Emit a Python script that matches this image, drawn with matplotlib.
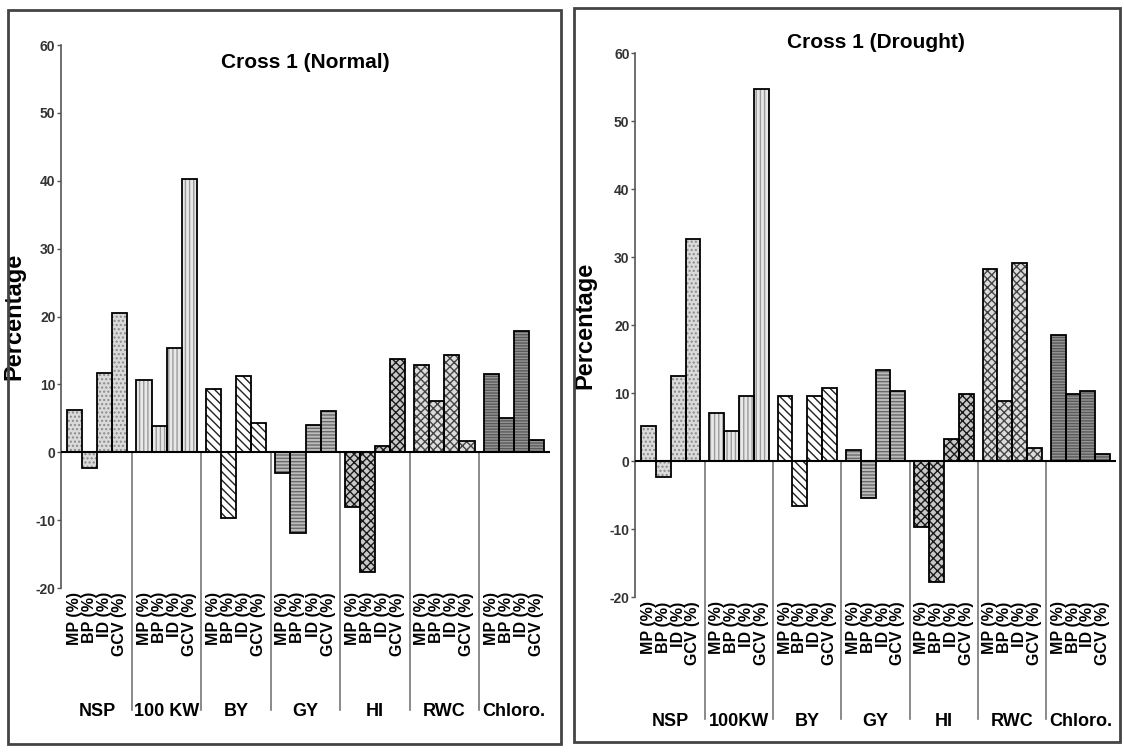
import numpy as np
import matplotlib
matplotlib.use('Agg')
import matplotlib.pyplot as plt
from matplotlib.patches import Rectangle
import matplotlib.transforms as mtransforms

plt.rcParams['axes.unicode_minus'] = False

# Datos
params = ['MP (%)', 'BP (%)', 'ID (%)', 'GCV (%)']
groups_normal = ['NSP', '100 KW', 'BY', 'GY', 'HI', 'RWC', 'Chloro.']
groups_drought = ['NSP', '100KW', 'BY', 'GY', 'HI', 'RWC', 'Chloro.']

# Cross 1 (Normal), un valor por grupo
mp_normal = [6.2, 10.7, 9.3, -3.0, -8.0, 12.9, 11.6]
bp_normal = [-2.3, 3.9, -9.7, -11.9, -17.6, 7.6, 5.0]
id_normal = [11.7, 15.4, 11.2, 4.0, 1.0, 14.3, 17.9]
gcv_normal = [20.5, 40.2, 4.3, 6.1, 13.8, 1.7, 1.8]

# Cross 1 (Drought)
mp_drought = [5.2, 7.1, 9.5, 1.6, -9.7, 28.3, 18.5]
bp_drought = [-2.4, 4.4, -6.6, -5.4, -17.8, 8.8, 9.8]
id_drought = [12.5, 9.6, 9.6, 13.4, 3.3, 29.1, 10.3]
gcv_drought = [32.6, 54.7, 10.7, 10.3, 9.8, 1.9, 1.1]

# Relleno por grupo: (color, trama, color de trama)
estilos = [('#dadada', '....', '#8a8a8a'),
           ('#e8e8e8', '||||', '#9a9a9a'),
           ('#ffffff', '\\\\\\\\', '#222222'),
           ('#bcbcbc', '-----', '#6a6a6a'),
           ('#c8c8c8', 'xxxx', '#1a1a1a'),
           ('#dcdcdc', 'xxxx', '#444444'),
           ('#959595', '------', '#5a5a5a')]

fuente = ['Liberation Sans', 'DejaVu Sans']

paso = 4.6
margen = 0.4


def panel(fig, rect, titulo, grupos, series, title_y, label_x):
    ax = fig.add_axes(rect)
    valores = np.array(series).T  # grupo x parametro
    pos, etiquetas = [], []
    for g in range(len(grupos)):
        cara, trama, ctrama = estilos[g]
        x = g * paso + margen + np.arange(4) + 0.5
        ax.bar(x, valores[g], width=1.0, color=cara, hatch=trama,
               edgecolor=ctrama, linewidth=0, zorder=2)
        ax.bar(x, valores[g], width=1.0, fill=False, edgecolor='black',
               linewidth=1.3, zorder=3)
        pos.extend(x)
        etiquetas.extend(params)
    ax.set_xlim(0, 6 * paso + margen + 4 + 0.4)
    ax.set_ylim(-20, 60)
    ax.axhline(0, color='black', lw=1.5, zorder=4)
    for s in ['top', 'right', 'bottom']:
        ax.spines[s].set_visible(False)
    ax.spines['left'].set_color('#555555')
    ax.spines['left'].set_linewidth(1.2)
    ax.set_yticks(range(-20, 61, 10))
    ax.tick_params(axis='y', length=3, width=1, color='#555555', pad=1)
    for t in ax.get_yticklabels():
        t.set_family(fuente)
        t.set_fontweight('bold')
        t.set_fontsize(10)
        t.set_color('#333333')
    ax.set_xticks(pos)
    ax.set_xticklabels(etiquetas, rotation=90, fontsize=11.5,
                       fontweight='bold', family=fuente)
    ax.tick_params(axis='x', length=0, pad=3)

    trans = mtransforms.blended_transform_factory(ax.transData, ax.transAxes)
    for g in range(len(grupos) - 1):
        xs = (g + 1) * paso + margen - (paso - 4) / 2
        ax.plot([xs, xs], [0.25, -0.225], color='#777777', lw=1.2,
                transform=trans, clip_on=False)
    for g, nombre in enumerate(grupos):
        xc = g * paso + margen + 2
        ax.text(xc, -0.228, nombre, transform=trans, ha='center',
                va='center', fontsize=13, fontweight='bold', family=fuente)

    ax.set_ylabel('Percentage', fontsize=17, fontweight='bold',
                  family=fuente)
    ax.yaxis.set_label_coords(label_x, 0.5)
    fig.text(rect[0] + rect[2] * 0.5, title_y, titulo, ha='center',
             va='center', fontsize=15, fontweight='bold', family=fuente)
    return ax


fig = plt.figure(figsize=(11.24, 7.52), dpi=100)

panel(fig, [0.0543, 0.218, 0.435, 0.722], 'Cross 1 (Normal)',
      groups_normal, [mp_normal, bp_normal, id_normal, gcv_normal],
      1 - 62 / 752, -0.072)
panel(fig, [0.565, 0.206, 0.428, 0.7234], 'Cross 1 (Drought)',
      groups_drought, [mp_drought, bp_drought, id_drought, gcv_drought],
      1 - 43 / 752, -0.081)

# Marcos de cada panel
fig.add_artist(Rectangle((8 / 1124, 1 - 744 / 752), 553 / 1124, 734 / 752,
                         transform=fig.transFigure, fill=False,
                         edgecolor='#444444', lw=2))
fig.add_artist(Rectangle((574 / 1124, 1 - 742 / 752), 546 / 1124, 734 / 752,
                         transform=fig.transFigure, fill=False,
                         edgecolor='#444444', lw=2))

plt.savefig('out.png', dpi=100)
